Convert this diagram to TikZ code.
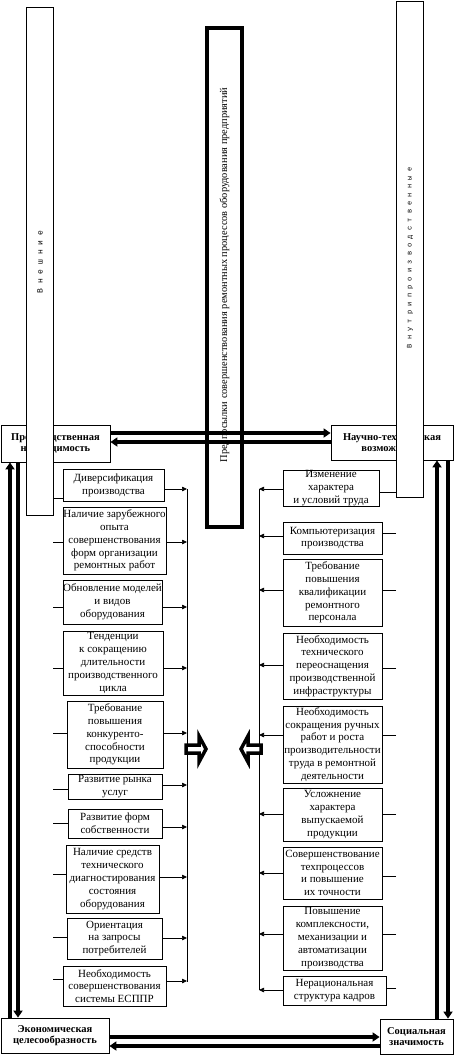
\documentclass[tikz,border=0pt]{standalone}
\usepackage{fontspec}
\setmainfont{Liberation Serif}
\newfontfamily\colmono{Liberation Mono}
\usetikzlibrary{arrows.meta}

\begin{document}
\begin{tikzpicture}[x=1pt,y=-1pt,line width=0.7pt,
  factor/.style={draw,line width=0.8,fill=white,align=center,inner xsep=0,inner ysep=0.5pt,
    font=\fontsize{11}{12.8}\selectfont},
  goal/.style={draw,line width=0.8,fill=white,align=center,inner sep=1pt,
    font=\fontsize{10.5}{11.5}\selectfont\bfseries},
  column/.style={draw,line width=0.8,fill=white,inner sep=0},
  link/.style={line width=0.7,-{Triangle[length=5pt,width=4.5pt]}},
  flow/.style={line width=3.6,-{Triangle[length=7pt,width=9pt]}},
  hollow/.style={line width=3.5,fill=white,line join=miter}]
\useasboundingbox (0,0) rectangle (454,1057);
% ---------- goals in the corners ----------
\node[goal,minimum width=109pt,minimum height=37pt] (PN) at (55.5,443.5) {Производственная\\необходимость};
\node[goal,minimum width=122pt,minimum height=35pt] (NT) at (392,442.5) {Научно-техническая\\возможность};
\node[goal,minimum width=108pt,minimum height=35pt] (EC) at (55,1035.5) {Экономическая\\целесообразность};
\node[goal,minimum width=73pt,minimum height=35pt] (SO) at (416.5,1036.5) {Социальная\\значимость};
% ---------- tall columns ----------
\node[column,minimum width=27pt,minimum height=508pt] (ext) at (39.5,261) {};
\node[rotate=90,font=\colmono\fontsize{8}{8}\selectfont] (extlabel) at (40,262) {В н е ш н и е};
\node[column,minimum width=27pt,minimum height=496pt] (int) at (409.5,249) {};
\node[rotate=90,font=\colmono\fontsize{7}{8}\selectfont] (intlabel) at (410,258) {В н у т р и п р о и з в о д с т в е н н ы е};
\node[draw,line width=4,minimum width=35pt,minimum height=499pt] (pre) at (224.5,277.5) {};
\node[rotate=90,font=\fontsize{10.4}{12}\selectfont] (prelabel) at (224.5,275)
  {Предпосылки совершенствования ремонтных процессов оборудования предприятий};
% ---------- external factors (left) ----------
\node[factor,minimum width=101pt,minimum height=32pt] (L1) at (113.5,485) {Диверсификация\\производства};
\node[factor,minimum width=103pt,minimum height=67pt] (L2) at (114.5,540.5) {Наличие зарубежного\\опыта\\совершенствования\\форм организации\\ремонтных работ};
\node[factor,minimum width=99pt,minimum height=44pt] (L3) at (112.5,602) {Обновление моделей\\и видов\\оборудования};
\node[factor,minimum width=100pt,minimum height=64pt] (L4) at (113,663) {Тенденции\\к сокращению\\длительности\\производственного\\цикла};
\node[factor,minimum width=96pt,minimum height=67pt] (L5) at (115,734.5) {Требование\\повышения\\конкуренто-\\способности\\продукции};
\node[factor,minimum width=94pt,minimum height=25pt] (L6) at (115,786.5) {Развитие рынка\\услуг};
\node[factor,minimum width=94pt,minimum height=29pt] (L7) at (115,823.5) {Развитие форм\\собственности};
\node[factor,minimum width=93pt,minimum height=68pt] (L8) at (112.5,879) {Наличие средств\\технического\\диагностирования\\состояния\\оборудования};
\node[factor,minimum width=95pt,minimum height=41pt] (L9) at (114.5,938.5) {Ориентация\\на запросы\\потребителей};
\node[factor,minimum width=103pt,minimum height=40pt] (L10) at (114.5,986) {Необходимость\\совершенствования\\системы ЕСППР};
% ---------- internal factors (right) ----------
\node[factor,minimum width=96pt,minimum height=34pt] (R1) at (331,488) {Изменение\\характера\\и условий труда};
\node[factor,minimum width=99pt,minimum height=32pt] (R2) at (332.5,538) {Компьютеризация\\производства};
\node[factor,minimum width=99pt,minimum height=67pt] (R3) at (332.5,592.5) {Требование\\повышения\\квалификации\\ремонтного\\персонала};
\node[factor,minimum width=99pt,minimum height=66pt] (R4) at (332.5,666) {Необходимость\\технического\\переоснащения\\производственной\\инфраструктуры};
\node[factor,minimum width=99pt,minimum height=77pt] (R5) at (332.5,744.5) {Необходимость\\сокращения ручных\\работ и роста\\производительности\\труда в ремонтной\\деятельности};
\node[factor,minimum width=99pt,minimum height=53pt] (R6) at (332.5,814.5) {Усложнение\\характера\\выпускаемой\\продукции};
\node[factor,minimum width=99pt,minimum height=52pt] (R7) at (332.5,873) {Совершенствование\\техпроцессов\\и повышение\\их точности};
\node[factor,minimum width=99pt,minimum height=64pt] (R8) at (332.5,938) {Повышение\\комплексности,\\механизации и\\автоматизации\\производства};
\node[factor,minimum width=103pt,minimum height=29pt] (R9) at (334.5,990.5) {Нерациональная\\структура кадров};
% ---------- buses and feeders ----------
\coordinate (lbustop) at (187,489);
\coordinate (lbusbot) at (187,982);
\coordinate (rbustop) at (259,489);
\coordinate (rbusbot) at (259,990);
\coordinate (lfeed) at (53,0);
\coordinate (rfeed) at (396,0);
\draw (lbustop) -- (lbusbot);
\draw (rbustop) -- (rbusbot);
\foreach \b/\y/\s in {L1/489/498,L2/542/542,L3/607/607,L4/668/668,L5/733/733,
                      L6/785/789,L7/827/823,L8/877/874,L9/938/937,L10/981/979}{
  \draw[link] (\b.east |- 0,\y) -- (lbustop |- 0,\y);
  \draw (lfeed |- 0,\s) -- (\b.west |- 0,\s);
}
\foreach \b/\y/\s in {R1/489/492,R2/536/533,R3/590/590,R4/665/668,R5/735/735,
                      R6/814/814,R7/873/876,R8/934/934,R9/990/988}{
  \draw[link] (\b.west |- 0,\y) -- (rbustop |- 0,\y);
  \draw (rfeed |- 0,\s) -- (\b.east |- 0,\s);
}
% ---------- hollow arrows into the centre ----------
\draw[hollow] (186,745) -- (199,745) -- (199,736) -- (206,749) -- (199,762) -- (199,753) -- (186,753) -- cycle;
\draw[hollow] (261,745) -- (248,745) -- (248,736) -- (241,749) -- (248,762) -- (248,753) -- (261,753) -- cycle;
% ---------- thick flows between goals ----------
\draw[flow] (PN.east |- 0,433) -- (NT.west |- 0,433);
\draw[flow] (NT.west |- 0,442) -- (PN.east |- 0,442);
\draw[flow] (EC.east |- 0,1037) -- (SO.west |- 0,1037);
\draw[flow] (SO.west |- 0,1046) -- (EC.east |- 0,1046);
\draw[flow] (EC.north -| 10,0) -- (PN.south -| 10,0);
\draw[flow] (PN.south -| 18,0) -- (EC.north -| 18,0);
\draw[flow] (SO.north -| 437,0) -- (NT.south -| 437,0);
\draw[flow] (NT.south -| 448,0) -- (SO.north -| 448,0);
\end{tikzpicture}
\end{document}
